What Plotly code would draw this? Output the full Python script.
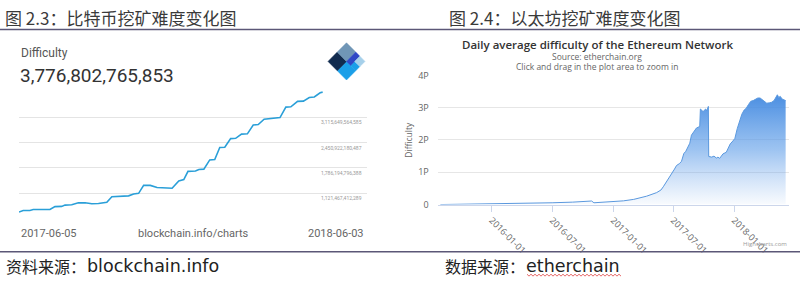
import plotly.graph_objects as go

# ---------------- data: Bitcoin difficulty (blockchain.info), in trillions ----------------
btc_dates = [
    "2017-06-05", "2017-06-10", "2017-06-18", "2017-06-22", "2017-07-12", "2017-07-18",
    "2017-07-26", "2017-07-30", "2017-08-07", "2017-08-15", "2017-08-23", "2017-08-31",
    "2017-09-08", "2017-09-16", "2017-09-18", "2017-09-24", "2017-10-04", "2017-10-14",
    "2017-10-20", "2017-10-26", "2017-11-01", "2017-11-09", "2017-11-17", "2017-12-05",
    "2017-12-13", "2017-12-19", "2017-12-24", "2018-01-02", "2018-01-06", "2018-01-12",
    "2018-01-19", "2018-01-25", "2018-01-31", "2018-02-06", "2018-02-13", "2018-02-19",
    "2018-02-26", "2018-03-05", "2018-03-12", "2018-03-18", "2018-03-25", "2018-04-01",
    "2018-04-13", "2018-04-20", "2018-04-26", "2018-05-04", "2018-05-11", "2018-05-18",
    "2018-05-24", "2018-05-31", "2018-06-03",
]
btc_difficulty_T = [
    0.628, 0.670, 0.670, 0.695, 0.695, 0.771,
    0.778, 0.811, 0.821, 0.871, 0.871, 0.846,
    0.853, 0.878, 0.886, 1.029, 1.036, 1.054,
    1.104, 1.121, 1.329, 1.329, 1.272, 1.254,
    1.447, 1.480, 1.698, 1.705, 1.748, 1.755,
    1.998, 2.006, 2.324, 2.331, 2.557, 2.564,
    2.675, 2.682, 2.915, 2.925, 3.065, 3.075,
    3.108, 3.383, 3.391, 3.534, 3.541, 3.634,
    3.651, 3.760, 3.777,
]
btc_grid_values = [456740028190, 1121467412289, 1786194796388, 2450922180487, 3115649564585]
btc_grid_labels = ["", "1,121,467,412,289", "1,786,194,796,388", "2,450,922,180,487", "3,115,649,564,585"]
btc_current = "3,776,802,765,853"

# ---------------- data: Ethereum difficulty (etherchain), in P ----------------
eth_dates = [
    "2015-07-30", "2015-10-01", "2016-01-01", "2016-04-01", "2016-07-01", "2016-09-01",
    "2016-10-10", "2016-10-28", "2016-11-04", "2016-12-01", "2017-01-01", "2017-02-01",
    "2017-03-04", "2017-04-12", "2017-05-12", "2017-05-25", "2017-06-01", "2017-06-11",
    "2017-06-20", "2017-06-26", "2017-07-05", "2017-07-11", "2017-07-20", "2017-07-26",
    "2017-08-02", "2017-08-08", "2017-08-15", "2017-08-20", "2017-08-25", "2017-09-01",
    "2017-09-09", "2017-09-19", "2017-09-21", "2017-09-29", "2017-10-07", "2017-10-10",
    "2017-10-15", "2017-10-16", "2017-10-25", "2017-11-01", "2017-11-08", "2017-11-13",
    "2017-11-18", "2017-11-28", "2017-12-08", "2017-12-14", "2017-12-20", "2017-12-28",
    "2018-01-03", "2018-01-10", "2018-01-17", "2018-01-24", "2018-01-31", "2018-02-06",
    "2018-02-13", "2018-02-20", "2018-02-27", "2018-03-06", "2018-03-13", "2018-03-20",
    "2018-03-26", "2018-04-02", "2018-04-09", "2018-04-17", "2018-04-24", "2018-05-01",
    "2018-05-06", "2018-05-11", "2018-05-15", "2018-05-20", "2018-05-25", "2018-06-01",
    "2018-06-05",
]
eth_difficulty_P = [
    0.0, 0.006, 0.018, 0.030, 0.055, 0.075,
    0.095, 0.110, 0.055, 0.075, 0.090, 0.115,
    0.160, 0.260, 0.370, 0.450, 0.550, 0.700,
    0.850, 0.940, 1.100, 1.210, 1.270, 1.340,
    1.580, 1.650, 1.800, 1.900, 2.150, 2.250,
    2.370, 2.420, 2.960, 2.880, 2.960, 2.900,
    3.040, 1.490, 1.470, 1.500, 1.440, 1.470,
    1.430, 1.570, 1.620, 1.750, 1.880, 1.970,
    2.050, 2.350, 2.600, 2.800, 2.930, 2.980,
    3.100, 3.200, 3.220, 3.270, 3.300, 3.300,
    3.260, 3.200, 3.140, 3.150, 3.170, 3.220,
    3.330, 3.400, 3.320, 3.350, 3.270, 3.240,
    3.220,
]
eth_tick_dates = ["2016-01-01", "2016-07-01", "2017-01-01", "2017-07-01", "2018-01-01"]
eth_y_ticks = [0, 1, 2, 3, 4]
eth_y_labels = ["0", "1P", "2P", "3P", "4P"]

W, H = 800, 285


def px(x):
    return x / W


def py(y):
    return 1 - y / H


fig = go.Figure()

fig.add_trace(go.Scatter(
    x=btc_dates, y=btc_difficulty_T, mode="lines",
    line=dict(color="#2a9fd8", width=1.6),
    xaxis="x", yaxis="y", showlegend=False, hoverinfo="skip",
))

fig.add_trace(go.Scatter(
    x=eth_dates, y=eth_difficulty_P, mode="lines",
    line=dict(color="#5a98de", width=1),
    fill="tozeroy",
    fillgradient=dict(type="vertical",
                      colorscale=[[0, "rgba(120,170,235,0.05)"],
                                  [0.5, "rgba(92,156,232,0.6)"],
                                  [1, "rgba(68,138,224,0.97)"]]),
    xaxis="x2", yaxis="y2", showlegend=False, hoverinfo="skip",
))

btc_grid_T = [v / 1e12 for v in btc_grid_values]

annotations = []
cjk = "Noto Sans CJK SC"
lat = "DejaVu Sans"
title_color = "#3a3a3a"


def note(text, x, y, size, color, family, xanchor="left", **kw):
    annotations.append(dict(text=text, x=px(x), y=py(y), xref="paper", yref="paper",
                            xanchor=xanchor, yanchor="middle", showarrow=False,
                            font=dict(family=family, size=size, color=color), **kw))


note("图 2.3：比特币挖矿难度变化图", 3, 11.5, 17, title_color, cjk)
note("图 2.4：以太坊挖矿难度变化图", 447, 11.5, 17, title_color, cjk)
note("资料来源：", 4, 271, 16, "#222", cjk)
note("blockchain.info", 85, 271, 17.5, "#222", lat)
note("数据来源：", 443, 271, 16, "#222", cjk)
note("etherchain", 524, 271, 17.5, "#222", lat)

# left chart header
note("Difficulty", 19, 48, 12, "#555", "Roboto")
note(btc_current, 18, 72, 19, "#333", "Roboto")
note("2017-06-05", 19, 237, 11, "#666", "Roboto")
note("blockchain.info/charts", 193, 237, 11, "#666", "Roboto", xanchor="center")
note("2018-06-03", 366, 237, 11, "#666", "Roboto", xanchor="right")
for v, lab in zip(btc_grid_T, btc_grid_labels):
    if lab:
        annotations.append(dict(text=lab, x=px(364), y=v, xref="paper", yref="y",
                                xanchor="right", yanchor="middle", yshift=-5, showarrow=False,
                                font=dict(family="Roboto", size=5, color="#999")))

# right chart header
hc = "Open Sans"
annotations.append(dict(text="Daily average difficulty of the Ethereum Network", x=px(597), y=py(39),
                        xref="paper", yref="paper", xanchor="center", yanchor="middle", showarrow=False,
                        font=dict(family=hc, size=11.5, color="#333", weight=600)))
note("Source: etherchain.org", 597, 52, 8.5, "#666", hc, xanchor="center")
note("Click and drag in the plot area to zoom in", 597, 62, 8.5, "#666", hc, xanchor="center")
note("Difficulty", 409, 139, 8.5, "#666", hc, xanchor="center", textangle=-90)
note("Highcharts.com", 789, 248, 6, "#999", hc, xanchor="right")

# shapes: separator rules, blockchain logo, spell-check squiggle
shapes = []
rule = "#5b5777"
shapes.append(dict(type="line", xref="paper", yref="paper", x0=0, x1=1, y0=py(23.5), y1=py(23.5),
                   line=dict(color=rule, width=1.5)))
shapes.append(dict(type="line", xref="paper", yref="paper", x0=0, x1=1, y0=py(256.5), y1=py(256.5),
                   line=dict(color=rule, width=1.5)))

# logo: diamond split in rotated frame (a toward N corner, b toward S corner)
Wc, Nc, Sc = (328.0, 57.0), (346.5, 37.5), (346.5, 76.5)


def lp(a, b):
    x = Wc[0] + a * (Nc[0] - Wc[0]) + b * (Sc[0] - Wc[0])
    y = Wc[1] + a * (Nc[1] - Wc[1]) + b * (Sc[1] - Wc[1])
    return px(x), py(y)


def cell(a0, a1, b0, b1, color):
    pts = [lp(a0, b0), lp(a1, b0), lp(a1, b1), lp(a0, b1)]
    path = "M " + " L ".join(f"{x:.5f},{y:.5f}" for x, y in pts) + " Z"
    shapes.append(dict(type="path", xref="paper", yref="paper", path=path,
                       fillcolor=color, line=dict(color=color, width=0.5), layer="above"))


cell(0, 0.5, 0.5, 1, "#1b9fe8")
cell(0.5, 0.72, 0.72, 1, "#1b9fe8")
cell(0, 0.5, 0, 0.5, "#112b4e")
cell(0.5, 1, 0, 0.5, "#7096b6")
cell(0.5, 1, 0.5, 0.72, "#2f48c6")
cell(0.72, 1, 0.72, 1, "#a6d0ea")

sq = []
x0 = 527
k = 0
while x0 <= 621:
    sq.append((px(x0), py(280 if k % 2 == 0 else 282)))
    x0 += 2
    k += 1
shapes.append(dict(type="path", xref="paper", yref="paper",
                   path="M " + " L ".join(f"{x:.5f},{y:.5f}" for x, y in sq),
                   line=dict(color="#e04040", width=0.8)))

fig.update_layout(
    width=W, height=H,
    margin=dict(l=0, r=0, t=0, b=0),
    paper_bgcolor="white", plot_bgcolor="white",
    showlegend=False,
    xaxis=dict(domain=[px(19), px(367)], range=["2017-06-05", "2018-07-26"], type="date",
               showgrid=False, showticklabels=False, zeroline=False, showline=False, fixedrange=True),
    yaxis=dict(domain=[py(222.4), py(85)], range=[0.44, 3.882],
               tickvals=btc_grid_T, showticklabels=False, ticks="",
               gridcolor="#e4e4e4", gridwidth=1, zeroline=False, showline=False),
    xaxis2=dict(domain=[px(437.7), px(789.3)], range=["2015-07-22", "2018-06-16"], type="date",
                anchor="y2", tickvals=eth_tick_dates, ticktext=eth_tick_dates,
                tickangle=45, ticks="outside", ticklen=6, tickcolor="#ccd6eb", tickwidth=1,
                showline=True, linecolor="#ccd6eb", linewidth=1, showgrid=False, zeroline=False,
                tickfont=dict(family=hc, size=9, color="#666")),
    yaxis2=dict(domain=[py(207), py(71.7)], range=[0, 4], anchor="x2",
                tickvals=eth_y_ticks, ticktext=eth_y_labels, ticks="",
                gridcolor="#e6e6e6", zeroline=False, showline=False,
                ticklabelstandoff=8,
                tickfont=dict(family=hc, size=9, color="#666")),
    annotations=annotations,
    shapes=shapes,
)

fig.write_html("out.html")
